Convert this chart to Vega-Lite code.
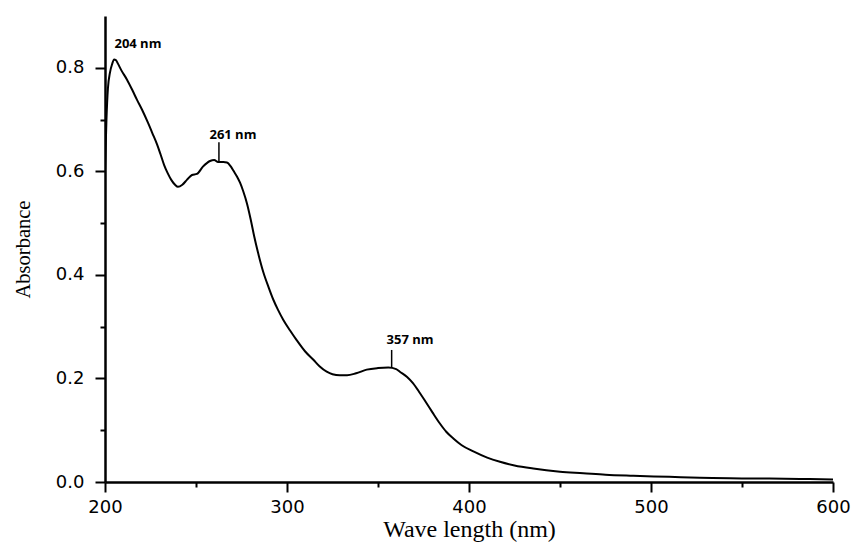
{
  "$schema": "https://vega.github.io/schema/vega-lite/v6.json",
  "width": 728,
  "height": 466,
  "autosize": {"type": "none"},
  "padding": {"left": 105, "top": 16, "right": 23, "bottom": 65},
  "background": "white",
  "config": {"view": {"stroke": null}},
  "datasets": {
    "curve": [
      {"nm": 200, "A": 0.60}, {"nm": 200.8, "A": 0.70}, {"nm": 201.6, "A": 0.76}, {"nm": 202.7, "A": 0.79},
      {"nm": 204, "A": 0.808}, {"nm": 205, "A": 0.816}, {"nm": 206, "A": 0.815}, {"nm": 207.1, "A": 0.808},
      {"nm": 209, "A": 0.795}, {"nm": 212.1, "A": 0.777}, {"nm": 215, "A": 0.757}, {"nm": 217.6, "A": 0.738},
      {"nm": 220.5, "A": 0.718}, {"nm": 223.6, "A": 0.694}, {"nm": 226, "A": 0.674}, {"nm": 228.6, "A": 0.652},
      {"nm": 230.5, "A": 0.633}, {"nm": 232.5, "A": 0.612}, {"nm": 234.5, "A": 0.596}, {"nm": 236.5, "A": 0.583},
      {"nm": 238.5, "A": 0.574}, {"nm": 240.1, "A": 0.570},
      {"nm": 242.5, "A": 0.574}, {"nm": 245.1, "A": 0.584}, {"nm": 247.8, "A": 0.593}, {"nm": 250.5, "A": 0.595},
      {"nm": 253.8, "A": 0.609}, {"nm": 257.7, "A": 0.620}, {"nm": 260, "A": 0.622}, {"nm": 262.1, "A": 0.618},
      {"nm": 265, "A": 0.618}, {"nm": 267, "A": 0.617}, {"nm": 269, "A": 0.610}, {"nm": 270.8, "A": 0.600},
      {"nm": 272.5, "A": 0.590}, {"nm": 274.2, "A": 0.578}, {"nm": 276, "A": 0.561}, {"nm": 278, "A": 0.538},
      {"nm": 280, "A": 0.508}, {"nm": 282, "A": 0.474}, {"nm": 284, "A": 0.444}, {"nm": 287, "A": 0.405},
      {"nm": 290, "A": 0.375},
      {"nm": 292.5, "A": 0.352}, {"nm": 295, "A": 0.333}, {"nm": 298, "A": 0.313}, {"nm": 301.6, "A": 0.293},
      {"nm": 305.3, "A": 0.274}, {"nm": 310, "A": 0.252}, {"nm": 314.5, "A": 0.236}, {"nm": 318, "A": 0.223},
      {"nm": 321.8, "A": 0.213}, {"nm": 325, "A": 0.208}, {"nm": 329, "A": 0.206}, {"nm": 333, "A": 0.206},
      {"nm": 338, "A": 0.210}, {"nm": 343.8, "A": 0.217}, {"nm": 350, "A": 0.220}, {"nm": 355.7, "A": 0.221},
      {"nm": 360, "A": 0.218}, {"nm": 362, "A": 0.213}, {"nm": 366, "A": 0.203}, {"nm": 369.2, "A": 0.191},
      {"nm": 373, "A": 0.172}, {"nm": 376.7, "A": 0.152}, {"nm": 380, "A": 0.134}, {"nm": 384, "A": 0.113},
      {"nm": 387.5, "A": 0.097}, {"nm": 391.4, "A": 0.084}, {"nm": 396, "A": 0.071}, {"nm": 402.4, "A": 0.059},
      {"nm": 410, "A": 0.047}, {"nm": 417, "A": 0.039}, {"nm": 425, "A": 0.032}, {"nm": 435.3, "A": 0.026},
      {"nm": 450, "A": 0.020}, {"nm": 462.8, "A": 0.017}, {"nm": 475, "A": 0.014}, {"nm": 490.3, "A": 0.012},
      {"nm": 510, "A": 0.010}, {"nm": 526.9, "A": 0.008}, {"nm": 550, "A": 0.007}, {"nm": 581.9, "A": 0.006},
      {"nm": 600, "A": 0.005}
    ],
    "marks": [
      {"nm": 262.6, "y1": 0.620, "y2": 0.656},
      {"nm": 357.5, "y1": 0.221, "y2": 0.255}
    ],
    "labels": [
      {"nm": 218.1, "A": 0.846, "label": "204 nm"},
      {"nm": 270.3, "A": 0.671, "label": "261 nm"},
      {"nm": 367.6, "A": 0.274, "label": "357 nm"}
    ]
  },
  "layer": [
    {
      "data": {"name": "curve"},
      "mark": {"type": "line", "color": "black", "strokeWidth": 2, "interpolate": "monotone", "clip": true},
      "encoding": {
        "x": {
          "field": "nm", "type": "quantitative",
          "scale": {"domain": [200, 600], "nice": false, "zero": false},
          "axis": {
            "title": "Wave length (nm)",
            "values": [200, 250, 300, 350, 400, 450, 500, 550, 600],
            "labelExpr": "datum.value % 100 == 0 ? format(datum.value, 'd') : ''",
            "tickSize": {"condition": {"test": "datum.value % 100 == 0", "value": 10}, "value": 5},
            "grid": false,
            "domainColor": "black", "domainWidth": 2.5,
            "tickColor": "black", "tickWidth": 2,
            "labelColor": "black", "labelFont": "DejaVu Sans", "labelFontSize": 18,
            "labelPadding": 6, "labelFlush": false,
            "titleFont": "Liberation Serif", "titleFontSize": 24, "titleFontWeight": "normal",
            "titleColor": "black", "titlePadding": 1
          }
        },
        "y": {
          "field": "A", "type": "quantitative",
          "scale": {"domain": [0, 0.9], "nice": false},
          "axis": {
            "title": "Absorbance",
            "values": [0, 0.1, 0.2, 0.3, 0.4, 0.5, 0.6, 0.7, 0.8],
            "labelExpr": "round(datum.value * 10) % 2 == 0 ? format(datum.value, '.1f') : ''",
            "tickSize": {"condition": {"test": "round(datum.value * 10) % 2 == 0", "value": 10}, "value": 5},
            "grid": false,
            "domainColor": "black", "domainWidth": 2.5,
            "tickColor": "black", "tickWidth": 2,
            "labelColor": "black", "labelFont": "DejaVu Sans", "labelFontSize": 18,
            "labelPadding": 11, "labelFlush": false,
            "titleFont": "Liberation Serif", "titleFontSize": 20.5, "titleFontWeight": "normal",
            "titleColor": "black", "titlePadding": 22
          }
        }
      }
    },
    {
      "data": {"name": "marks"},
      "mark": {"type": "rule", "color": "black", "strokeWidth": 1.5},
      "encoding": {
        "x": {"field": "nm", "type": "quantitative"},
        "y": {"field": "y1", "type": "quantitative"},
        "y2": {"field": "y2"}
      }
    },
    {
      "data": {"name": "labels"},
      "mark": {"type": "text", "font": "Open Sans", "fontSize": 13, "fontWeight": "bold", "color": "black", "baseline": "middle", "align": "center"},
      "encoding": {
        "x": {"field": "nm", "type": "quantitative"},
        "y": {"field": "A", "type": "quantitative"},
        "text": {"field": "label"}
      }
    }
  ]
}
